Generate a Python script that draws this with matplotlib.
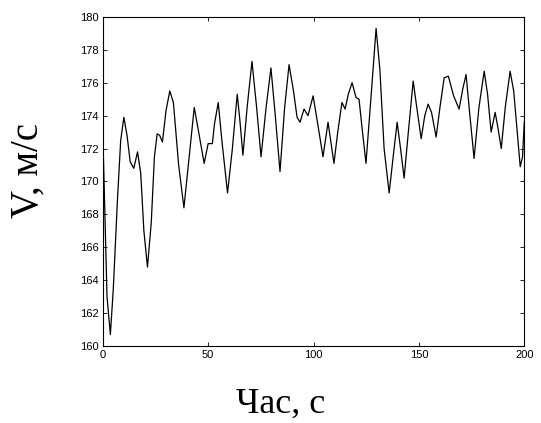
import matplotlib
matplotlib.use('Agg')
from matplotlib import pyplot as plt

# time (s) and speed (m/s)
time = [0, 1, 2, 3.6, 5, 7, 8.5, 10, 11.5, 13, 14.7, 16.5, 18, 19.5, 21.2,
        23, 24.5, 25.8, 27, 28.3, 30, 31.8, 33.5, 36, 38.5, 41, 43.4, 45.5,
        48.1, 50, 52, 53, 54.8, 56.5, 59.2, 61.5, 63.8, 65, 66.5, 68.5, 70.8,
        73, 75.1, 77.5, 79.8, 82, 84.1, 86.3, 88.4, 90.5, 92.2, 93.6, 95.5,
        97.4, 99.8, 102, 104.5, 106.9, 109.7, 111.5, 113.5, 115, 116.5, 118.3,
        120.2, 121.6, 123, 124.9, 127.5, 129.7, 131.5, 133.5, 135.9, 137.8,
        139.7, 141.3, 143, 145, 147.3, 149, 151.1, 152.8, 154.4, 156, 158.2,
        160, 162, 164, 166.5, 169.1, 170.8, 172.4, 174, 176.2, 178.5, 181,
        182.6, 184.3, 186.2, 187.6, 189.1, 191, 193.3, 195, 198.1, 199.2, 200]
speed = [173.0, 168.0, 163.0, 160.7, 163.5, 169.0, 172.5, 173.9, 172.8, 171.2,
         170.8, 171.8, 170.5, 167.0, 164.8, 167.5, 171.5, 172.9, 172.8, 172.4,
         174.3, 175.5, 174.8, 171.0, 168.4, 171.5, 174.5, 173.0, 171.1, 172.3,
         172.3, 173.5, 174.8, 172.5, 169.3, 172.0, 175.3, 173.8, 171.6, 174.5,
         177.3, 174.5, 171.5, 174.5, 176.9, 173.8, 170.6, 174.5, 177.1, 175.5,
         173.9, 173.6, 174.4, 174.0, 175.2, 173.5, 171.5, 173.6, 171.1, 173.0,
         174.8, 174.4, 175.3, 176.0, 175.1, 175.0, 173.3, 171.1, 175.5, 179.3,
         176.8, 172.0, 169.3, 171.5, 173.6, 172.0, 170.2, 173.0, 176.1, 174.5,
         172.6, 174.0, 174.7, 174.2, 172.7, 174.5, 176.3, 176.4, 175.2, 174.4,
         175.6, 176.5, 174.3, 171.4, 174.5, 176.7, 175.3, 173.0, 174.2, 173.2,
         172.0, 174.5, 176.7, 175.5, 170.9, 171.5, 173.6]

xticks = [0, 50, 100, 150, 200]
yticks = list(range(160, 181, 2))

fig = plt.figure(figsize=(5.41, 4.23), dpi=100)
ax = fig.add_axes([0.190, 0.182, 0.779, 0.778])
ax.plot(time, speed, color='black', linewidth=0.9)
ax.set_xlim(0, 200)
ax.set_ylim(160, 180)
ax.set_xticks(xticks)
ax.set_yticks(yticks)
ax.tick_params(direction='in', top=True, right=True, length=3, width=0.6,
               labelsize=8, pad=3)
for lbl in ax.get_xticklabels() + ax.get_yticklabels():
    lbl.set_family('Liberation Sans')
for s in ax.spines.values():
    s.set_linewidth(0.8)

# axis titles sit a little off-centre in the original
fig.text(0.518, 0.024, 'Час, с', family='Liberation Serif', fontsize=26,
         ha='center', va='baseline')
fig.text(0.052, 0.598, 'V, м/с', family='Liberation Serif', fontsize=28,
         rotation=90, ha='center', va='center')

plt.savefig('out.png', dpi=100)
